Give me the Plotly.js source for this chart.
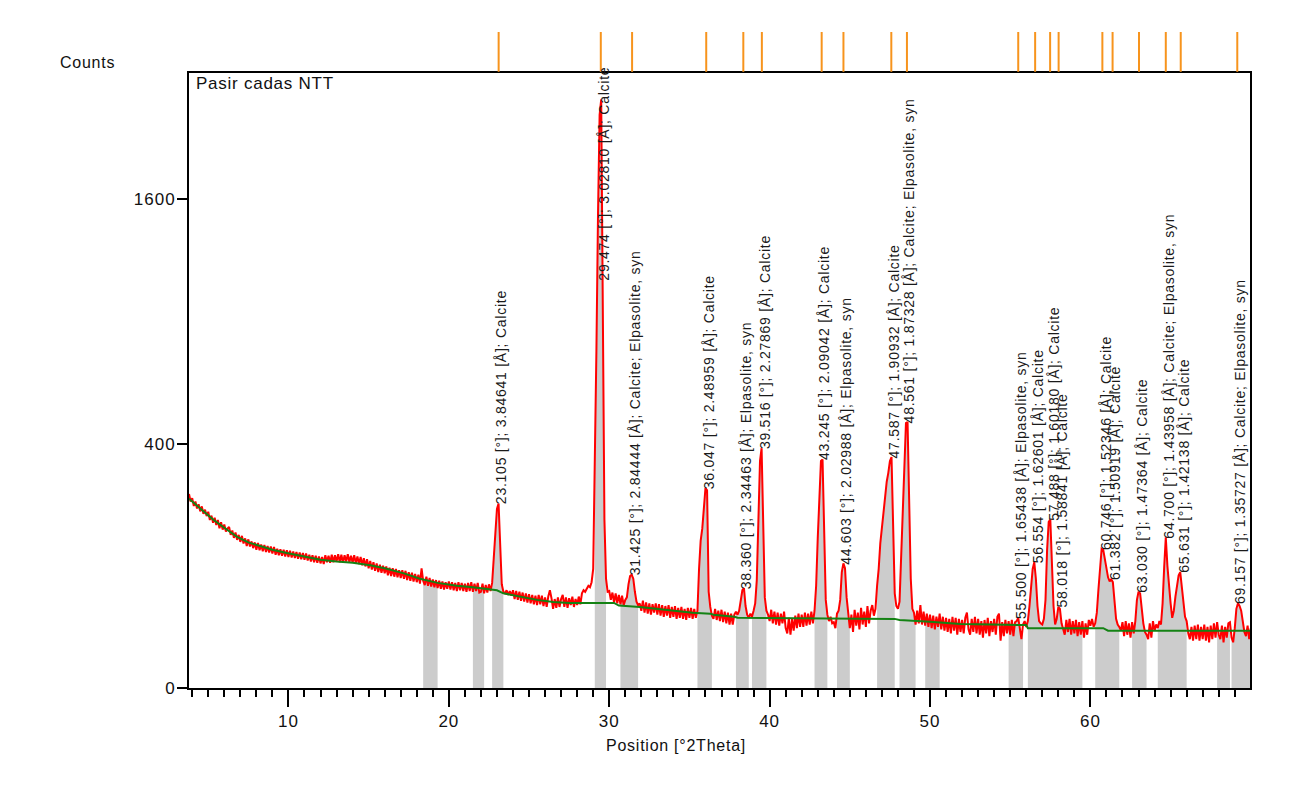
<!DOCTYPE html>
<html><head><meta charset="utf-8">
<script src="https://cdn.plot.ly/plotly-3.0.1.min.js"></script>
<style>
html,body{margin:0;padding:0;background:#fff;}
#chart{width:1312px;height:801px;}
.annotation-text{letter-spacing:0.75px;}
.xtick text,.ytick text{letter-spacing:1px;}
</style></head><body><div id="chart"></div>
<script>
// Scan grid (°2Theta) and observed counts
const scanStart = 3.8;
const scanStep = 0.1;
const counts = [
 252, 233,
 241, 222, 233, 216, 226, 209, 221, 203, 213, 198,
 208, 189, 199, 183, 194, 178, 189, 171, 184, 168,
 179, 164, 170, 174, 157, 166, 151, 162, 147, 157,
 143, 155, 140, 150, 135, 148, 134, 144, 131, 142,
 128, 141, 127, 138, 125, 137, 124, 135, 123, 134,
 121, 133, 119, 130, 118, 129, 117, 128, 116, 127,
 115, 126, 114, 125, 113, 124, 112, 123, 111, 122,
 110, 121, 109, 119, 107, 118, 106, 117, 105, 116,
 104, 115, 103, 118, 106, 117, 105, 119, 106, 118,
 107, 120, 106, 119, 105, 118, 107, 120, 106, 117,
 105, 118, 104, 116, 103, 115, 101, 113, 99, 111,
 96, 108, 94, 106, 92, 104, 90, 102, 89, 100,
 88, 99, 85, 97, 84, 96, 83, 95, 82, 93,
 81, 93, 80, 92, 78, 90, 77, 89, 76, 87,
 75, 86, 73, 96, 77, 71, 83, 70, 81, 69,
 79, 68, 78, 67, 77, 66, 76, 65, 75, 66,
 76, 65, 75, 64, 74, 63, 75, 64, 74, 63,
 73, 62, 74, 63, 75, 62, 73, 63, 74, 61,
 62, 73, 60, 71, 61, 72, 63, 74, 113, 155,
 215, 228, 135, 72, 62, 60, 64, 58, 63, 57,
 64, 53, 63, 52, 62, 51, 61, 50, 60, 49,
 59, 48, 58, 47, 57, 46, 58, 47, 57, 45,
 55, 44, 56, 64, 54, 42, 53, 43, 55, 44,
 53, 58, 44, 55, 43, 54, 46, 56, 44, 53,
 46, 56, 47, 60, 64, 62, 66, 70, 68, 75,
 95, 300, 760, 1500, 2200, 2320, 900, 190, 80, 62,
 63, 52, 61, 49, 60, 48, 58, 47, 57, 46,
 52, 55, 72, 84, 86, 80, 62, 50, 46, 48,
 40, 51, 38, 49, 37, 48, 36, 47, 38, 48,
 36, 47, 35, 46, 34, 45, 35, 46, 33, 44,
 34, 45, 32, 43, 33, 44, 32, 42, 31, 43,
 33, 43, 32, 42, 33, 40, 95, 145, 170, 222,
 268, 262, 62, 44, 35, 32, 42, 31, 40, 30,
 41, 29, 39, 28, 38, 27, 37, 27, 36, 39,
 36, 40, 52, 64, 67, 45, 36, 33, 37, 34,
 40, 48, 78, 180, 345, 385, 150, 55, 40, 36,
 30, 41, 28, 39, 27, 38, 26, 37, 28, 39,
 24, 20, 33, 19, 32, 22, 35, 24, 37, 25,
 36, 25, 38, 26, 37, 27, 39, 28, 40, 70,
 150, 250, 345, 350, 170, 52, 36, 30, 34, 28,
 29, 24, 37, 40, 52, 90, 104, 96, 55, 36,
 24, 36, 21, 41, 26, 38, 23, 43, 27, 39,
 25, 45, 28, 40, 46, 35, 42, 70, 95, 140,
 175, 215, 250, 285, 310, 345, 357, 180, 60, 45,
 42, 50, 110, 190, 350, 470, 474, 200, 80, 42,
 38, 27, 40, 28, 46, 27, 39, 26, 37, 25,
 36, 24, 35, 23, 34, 25, 37, 23, 34, 22,
 33, 21, 32, 20, 34, 22, 33, 19, 32, 21,
 31, 20, 33, 38, 23, 19, 32, 21, 34, 20,
 32, 19, 30, 17, 31, 20, 33, 18, 30, 21,
 32, 19, 34, 37, 15, 29, 18, 31, 20, 30,
 19, 31, 18, 29, 30, 33, 22, 16, 27, 30,
 25, 30, 45, 65, 95, 106, 80, 45, 30, 28,
 27, 32, 52, 128, 185, 190, 110, 45, 27, 32,
 44, 42, 28, 23, 19, 31, 21, 32, 19, 30,
 20, 31, 18, 29, 19, 30, 17, 28, 19, 31,
 26, 32, 25, 28, 38, 65, 98, 130, 128, 112,
 100, 82, 76, 79, 75, 50, 32, 27, 25, 22,
 29, 18, 30, 19, 28, 17, 29, 20, 30, 52,
 62, 60, 42, 28, 21, 19, 16, 28, 17, 30,
 22, 27, 24, 30, 27, 48, 98, 152, 100, 65,
 48, 33, 40, 56, 72, 85, 90, 70, 48, 34,
 30, 20, 16, 25, 15, 26, 16, 27, 15, 25,
 16, 27, 15, 25, 14, 26, 16, 28, 17, 29,
 19, 16, 26, 14, 25, 17, 28, 29, 17, 14,
 24, 42, 48, 45, 40, 30, 21, 18, 26, 16,
 24
];

// Fitted background
const backgroundPos = [3.8, 4.5, 5.3, 6.0, 6.8, 7.5, 8.4, 9.0, 9.9, 11.0, 12.0, 13.0, 14.0, 15.1, 16.0, 17.2, 18.2, 19.3, 20.5, 21.5, 22.2, 23.0, 23.4, 24.5, 25.5, 26.5, 27.5, 30.3, 30.6, 31.9, 33.0, 34.0, 35.2, 36.3, 36.5, 37.8, 38.0, 47.8, 48.1, 50.0, 51.9, 54.8, 56.0, 56.1, 60.8, 61.1, 70.0];
const backgroundCounts = [240, 215, 190, 172, 153, 142, 133, 128, 122, 116, 110, 107, 105, 101, 96, 88, 80, 74, 70, 68, 66, 64, 60, 56, 52, 49.5, 48.5, 48.5, 45.5, 44, 42, 40, 38, 37, 36, 34, 33, 32, 31, 29.5, 27.5, 26.8, 26.5, 24, 24, 22, 22];

// Identified peaks
const peakPos = [23.105, 29.474, 31.425, 36.047, 38.360, 39.516, 43.245, 44.603, 47.587, 48.561, 55.500, 56.554, 57.488, 58.018, 60.746, 61.382, 63.030, 64.700, 65.631, 69.157];
const peakD = ['3.84641', '3.02810', '2.84444', '2.48959', '2.34463', '2.27869', '2.09042', '2.02988', '1.90932', '1.87328', '1.65438', '1.62601', '1.60180', '1.58841', '1.52346', '1.50919', '1.47364', '1.43958', '1.42138', '1.35727'];
const peakPhase = ['Calcite', 'Calcite', 'Calcite; Elpasolite, syn', 'Calcite', 'Elpasolite, syn', 'Calcite', 'Calcite', 'Elpasolite, syn', 'Calcite', 'Calcite; Elpasolite, syn', 'Elpasolite, syn', 'Calcite', 'Calcite', 'Calcite', 'Calcite', 'Calcite', 'Calcite', 'Calcite; Elpasolite, syn', 'Calcite', 'Calcite; Elpasolite, syn'];

// Profile-fit regions (°2Theta)
const regionStart = [18.4, 21.5, 22.7, 29.1, 30.7, 35.5, 37.9, 38.9, 42.8, 44.2, 46.7, 48.1, 49.7, 54.9, 56.1, 60.3, 62.6, 64.2, 67.9, 68.8];
const regionEnd   = [19.3, 22.2, 23.4, 29.8, 31.8, 36.4, 38.7, 39.8, 43.6, 45.0, 47.8, 49.1, 50.6, 55.8, 59.5, 61.8, 63.5, 66.0, 68.7, 70.0];

const yTickCounts = [0, 400, 1600];

// ---------- build ----------
const FONT = 'Liberation Sans, Arial, sans-serif';
const scanPos = counts.map((_, i) => +(scanStart + i * scanStep).toFixed(2));
const root = c => Math.sqrt(c);

const traces = [];
regionStart.forEach((a, k) => {
  const b = regionEnd[k];
  const xs = [], ys = [];
  scanPos.forEach((p, i) => { if (p >= a - 1e-6 && p <= b + 1e-6) { xs.push(p); ys.push(root(counts[i])); } });
  traces.push({x: xs, y: ys, type: 'scatter', mode: 'lines', fill: 'tozeroy',
    fillcolor: '#cccccc', line: {width: 0, color: '#cccccc'}, hoverinfo: 'skip'});
});
traces.push({x: scanPos, y: counts.map(root), type: 'scatter', mode: 'lines',
  line: {color: '#ff0000', width: 2}, name: 'Pasir cadas NTT'});
traces.push({x: backgroundPos, y: backgroundCounts.map(root), type: 'scatter', mode: 'lines',
  line: {color: '#148214', width: 2}, name: 'Background'});
traces.push({x: peakPos.flatMap(p => [p, p, null]), y: peakPos.flatMap(() => [0.03, 1, null]),
  type: 'scatter', mode: 'lines', yaxis: 'y2', line: {color: '#f7941d', width: 2}, name: 'Peak list'});

const labelCeiling = 33.4; // sqrt-count level above which labels are not started
const annotations = peakPos.map((p, k) => {
  let m = 0;
  scanPos.forEach((q, i) => { if (Math.abs(q - p) <= 0.151) m = Math.max(m, counts[i]); });
  return {x: p, y: Math.min(root(m), labelCeiling), xref: 'x', yref: 'y',
    text: p.toFixed(3) + ' [°]; ' + peakD[k] + ' [Å]; ' + peakPhase[k],
    textangle: -90, showarrow: false, xanchor: 'center', yanchor: 'bottom', xshift: 3, yshift: -3,
    font: {family: FONT, size: 14, color: '#1a1a1a'}};
});
annotations.push({text: 'Counts', xref: 'paper', yref: 'paper', x: -0.1235, y: 0.954,
  xanchor: 'left', yanchor: 'middle', showarrow: false, font: {family: FONT, size: 16, color: '#111'}});
annotations.push({text: 'Pasir cadas NTT', xref: 'paper', yref: 'paper', x: 0.005, y: 0.922,
  xanchor: 'left', yanchor: 'middle', showarrow: false, font: {family: FONT, size: 17, color: '#111'}});
annotations.push({text: 'Position [°2Theta]', xref: 'paper', yref: 'paper', x: 0.459, y: -0.087,
  xanchor: 'center', yanchor: 'middle', showarrow: false, font: {family: FONT, size: 16, color: '#111'}});

const layout = {
  width: 1312, height: 801,
  margin: {l: 189, r: 62, t: 32, b: 113},
  paper_bgcolor: '#fff', plot_bgcolor: '#fff',
  showlegend: false,
  font: {family: FONT, size: 16, color: '#111'},
  xaxis: {range: [3.8, 69.95], dtick: 10, tick0: 0, ticks: 'outside', ticklen: 17, tickwidth: 2,
    tickcolor: '#000', showline: true, linewidth: 2, linecolor: '#000', mirror: true,
    showgrid: false, zeroline: false, tickfont: {family: FONT, size: 17, color: '#111'},
    minor: {dtick: 1, tick0: 0, ticks: 'outside', ticklen: 7, tickwidth: 2, tickcolor: '#000', showgrid: false}},
  yaxis: {domain: [0, 0.9375], range: [0, 50.33], tickvals: yTickCounts.map(root),
    ticktext: yTickCounts.map(String), ticks: 'outside', ticklen: 10, tickwidth: 2, tickcolor: '#000',
    ticklabelstandoff: -2,
    showline: true, linewidth: 2, linecolor: '#000', mirror: true, showgrid: false, zeroline: false,
    tickfont: {family: FONT, size: 17, color: '#111'}},
  yaxis2: {domain: [0.9375, 1], range: [0, 1], visible: false, fixedrange: true},
  annotations: annotations
};

Plotly.newPlot('chart', traces, layout, {displayModeBar: false, staticPlot: true});
</script></body></html>
